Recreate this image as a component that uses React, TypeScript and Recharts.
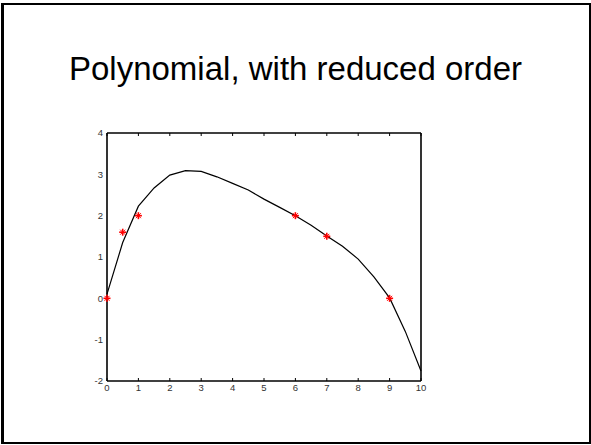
import { ComposedChart, Line, Scatter, XAxis, YAxis } from "recharts";

// fitted polynomial, sampled every 0.5
const fitX = [0, 0.5, 1, 1.5, 2, 2.5, 3, 3.5, 4, 4.5, 5, 5.5, 6, 6.5, 7, 7.5, 8, 8.5, 9, 9.5, 10];
const fitY = [0.1, 1.35, 2.23, 2.67, 2.98, 3.09, 3.07, 2.94, 2.78, 2.62, 2.4, 2.2, 2.0, 1.77, 1.51, 1.26, 0.95, 0.52, 0.01, -0.8, -1.76];

// measured points
const pointX = [0, 0.5, 1, 6, 7, 9];
const pointY = [0, 1.6, 2, 2, 1.5, 0];

const xTicks = [0, 1, 2, 3, 4, 5, 6, 7, 8, 9, 10];
const yTicks = [-2, -1, 0, 1, 2, 3, 4];

const curve = fitX.map((x, i) => ({ x, y: fitY[i] }));
const points = pointX.map((x, i) => ({ x, y: pointY[i] }));

const tickFont = { fontSize: 9.5, fill: "#333", fontFamily: "Arial, 'Liberation Sans', sans-serif" };
const axisLine = { stroke: "#000", strokeWidth: 1.6 };
const tickLine = { stroke: "#000", strokeWidth: 1 };

// tick-only axes draw their marks inside the frame, without labels
const NoLabel = () => <g />;

function Star(props: any) {
  const { cx, cy } = props;
  if (cx == null || cy == null) return null;
  const r = 3.5;
  const d = 2.5;
  return (
    <g stroke="#ff0000" strokeWidth={1.6}>
      <line x1={cx - r} y1={cy} x2={cx + r} y2={cy} />
      <line x1={cx} y1={cy - r} x2={cx} y2={cy + r} />
      <line x1={cx - d} y1={cy - d} x2={cx + d} y2={cy + d} strokeWidth={1} />
      <line x1={cx - d} y1={cy + d} x2={cx + d} y2={cy - d} strokeWidth={1} />
    </g>
  );
}

export default function App() {
  return (
    <div
      style={{
        position: "absolute",
        left: 0,
        top: 0,
        width: 591,
        height: 445,
        background: "#fff",
        overflow: "hidden",
      }}
    >
      <div
        style={{
          position: "absolute",
          left: 1,
          top: 3,
          width: 585,
          height: 437,
          borderTop: "2px solid #000",
          borderRight: "2px solid #000",
          borderBottom: "2px solid #000",
          borderLeft: "3px solid #000",
        }}
      />
      <div
        style={{
          position: "absolute",
          left: 0,
          top: 52,
          width: 591,
          textAlign: "center",
          fontFamily: "Arial, 'Liberation Sans', sans-serif",
          fontSize: 33,
          lineHeight: "33px",
          color: "#000",
        }}
      >
        Polynomial, with reduced order
      </div>
      <div style={{ position: "absolute", left: 0, top: 0 }}>
        <ComposedChart
          width={591}
          height={445}
          data={curve}
          margin={{ top: 133, right: 170, bottom: 44, left: 77 }}
        >
          {/* inward tick marks on all four sides */}
          <XAxis
            xAxisId="bottomTicks"
            dataKey="x"
            type="number"
            domain={[0, 10]}
            ticks={xTicks}
            interval={0}
            height={1}
            mirror
            tickSize={3}
            axisLine={axisLine}
            tickLine={tickLine}
            tick={NoLabel}
          />
          <XAxis
            xAxisId="topTicks"
            orientation="top"
            dataKey="x"
            type="number"
            domain={[0, 10]}
            ticks={xTicks}
            interval={0}
            height={1}
            mirror
            tickSize={3}
            axisLine={axisLine}
            tickLine={tickLine}
            tick={NoLabel}
          />
          <YAxis
            yAxisId="leftTicks"
            type="number"
            domain={[-2, 4]}
            ticks={yTicks}
            interval={0}
            width={1}
            mirror
            tickSize={3}
            axisLine={axisLine}
            tickLine={tickLine}
            tick={NoLabel}
          />
          <YAxis
            yAxisId="rightTicks"
            orientation="right"
            type="number"
            domain={[-2, 4]}
            ticks={yTicks}
            interval={0}
            width={1}
            mirror
            tickSize={3}
            axisLine={axisLine}
            tickLine={tickLine}
            tick={NoLabel}
          />
          {/* label axes */}
          <XAxis
            xAxisId="bottom"
            dataKey="x"
            type="number"
            domain={[0, 10]}
            ticks={xTicks}
            interval={0}
            height={20}
            tickSize={0}
            tickMargin={3}
            axisLine={false}
            tickLine={false}
            tick={tickFont}
          />
          <YAxis
            yAxisId="left"
            type="number"
            domain={[-2, 4]}
            ticks={yTicks}
            interval={0}
            width={30}
            tickSize={0}
            tickMargin={4}
            axisLine={false}
            tickLine={false}
            tick={tickFont}
          />
          <Line
            xAxisId="bottom"
            yAxisId="left"
            dataKey="y"
            type="linear"
            stroke="#000"
            strokeWidth={1.2}
            dot={false}
            activeDot={false}
            isAnimationActive={false}
          />
          <Scatter
            xAxisId="bottom"
            yAxisId="left"
            data={points}
            dataKey="y"
            shape={Star}
            isAnimationActive={false}
          />
        </ComposedChart>
      </div>
    </div>
  );
}
